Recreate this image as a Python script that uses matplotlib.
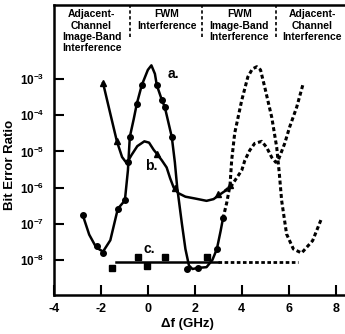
import matplotlib.pyplot as plt

plt.rcParams['font.family'] = ['Liberation Sans', 'DejaVu Sans']
plt.rcParams['font.weight'] = 'bold'
plt.rcParams['mathtext.fontset'] = 'custom'
plt.rcParams['mathtext.rm'] = 'Liberation Sans:bold'
plt.rcParams['mathtext.bf'] = 'Liberation Sans:bold'
plt.rcParams['mathtext.it'] = 'Liberation Sans:bold'
plt.rcParams['axes.unicode_minus'] = False

# --- data ---
# curve a (circles), solid part
a_x = [-2.77, -2.5, -2.2, -1.91, -1.6, -1.28, -0.98, -0.85, -0.77, -0.6, -0.47, -0.26,
       0.0, 0.15, 0.3, 0.38, 0.6, 0.72, 1.02, 1.15, 1.25, 1.45, 1.6, 1.75, 1.9, 2.13,
       2.5, 2.75, 2.94, 3.1, 3.2]
a_ber = [1.7e-7, 5.0e-8, 2.2e-8, 1.7e-8, 3.5e-8, 2.6e-7, 4.4e-7, 3.0e-6, 2.5e-5, 8.0e-5,
         2.1e-4, 6.8e-4, 1.8e-3, 2.4e-3, 1.4e-3, 6.8e-4, 2.6e-4, 1.7e-4, 2.5e-5, 5.0e-6,
         1.0e-6, 1.0e-7, 2.0e-8, 7.0e-9, 5.6e-9, 6.0e-9, 6.3e-9, 1.0e-8, 2.0e-8, 6.3e-8,
         1.4e-7]
a_pts_x = [-2.77, -2.17, -1.91, -1.28, -0.98, -0.85, -0.77, -0.47, -0.26, 0.38, 0.6,
           0.72, 1.02, 1.66, 2.13, 2.94, 3.2]
a_pts_ber = [1.7e-7, 2.4e-8, 1.6e-8, 2.6e-7, 4.4e-7, 5.0e-6, 2.5e-5, 2.1e-4, 6.8e-4,
             6.8e-4, 2.6e-4, 1.7e-4, 2.5e-5, 5.6e-9, 6.0e-9, 2.0e-8, 1.4e-7]
# curve a, image-band (dotted)
a_img_x = [3.2, 3.36, 3.5, 3.57, 3.7, 4.0, 4.26, 4.45, 4.64, 4.8, 4.98, 5.28, 5.49,
           5.6, 5.7, 5.91, 6.2, 6.55, 7.02, 7.4]
a_img_ber = [1.4e-7, 3.8e-7, 1.15e-6, 5.6e-6, 3.2e-5, 2.6e-4, 1.15e-3, 1.9e-3, 2.2e-3,
             1.8e-3, 6.0e-4, 8.7e-5, 1.3e-5, 2.5e-6, 4.4e-7, 5.2e-8, 2.0e-8, 1.55e-8,
             3.4e-8, 1.4e-7]

# curve b (triangles), solid part
b_x = [-1.91, -1.6, -1.32, -1.1, -0.9, -0.7, -0.45, -0.15, 0.05, 0.25, 0.38, 0.6, 0.8,
       0.95, 1.1, 1.3, 1.6, 2.0, 2.5, 2.8, 3.0, 3.28]
b_ber = [7.8e-4, 1.1e-4, 1.9e-5, 7.0e-6, 4.7e-6, 7.9e-6, 1.4e-5, 1.9e-5, 1.75e-5, 1.1e-5,
         8.7e-6, 5.6e-6, 3.6e-6, 1.8e-6, 1.0e-6, 7.0e-7, 5.6e-7, 5.0e-7, 4.3e-7, 4.8e-7,
         6.0e-7, 8.0e-7]
b_pts_x = [-1.91, -1.32, 0.38, 1.15, 2.98, 3.5]
b_pts_ber = [7.8e-4, 1.9e-5, 8.7e-6, 1.0e-6, 6.5e-7, 1.15e-6]
# curve b, image-band (dotted)
b_img_x = [3.28, 3.57, 4.0, 4.13, 4.34, 4.55, 4.85, 5.06, 5.28, 5.45, 5.55, 5.83, 6.04,
           6.34, 6.6]
b_img_ber = [8.0e-7, 1.15e-6, 3.0e-6, 5.6e-6, 1.07e-5, 1.66e-5, 1.9e-5, 1.3e-5, 6.8e-6,
             5.0e-6, 5.6e-6, 1.66e-5, 4.7e-5, 1.66e-4, 6.8e-4]

# curve c (squares)
c_pts_x = [-1.53, -0.42, -0.04, 0.72, 2.5]
c_pts_ber = [6.0e-9, 1.2e-8, 6.8e-9, 1.2e-8, 1.2e-8]
c_x = [-1.35, 2.98]
c_img_x = [2.98, 6.38]
c_ber = 8.9e-9

# header regions
region_edges = [-0.77, 2.30, 5.45]
region_x = [-2.4, 0.8, 3.9, 7.0]
region_labels = ['Adjacent-\nChannel\nImage-Band\nInterference',
                 'FWM\nInterference',
                 'FWM\nImage-Band\nInterference',
                 'Adjacent-\nChannel\nInterference']

xticks = [-4, -2, 0, 2, 4, 6, 8]
yticks = [1e-8, 1e-7, 1e-6, 1e-5, 1e-4, 1e-3]
ytick_labels = [r'$10^{-8}$', r'$10^{-7}$', r'$10^{-6}$', r'$10^{-5}$', r'$10^{-4}$', r'$10^{-3}$']

fig = plt.figure(figsize=(3.45, 3.34), dpi=100)
ax = fig.add_axes([54 / 345, 39 / 334, 291 / 345, 290 / 334])
ax.set_yscale('log')

dot = (0, (1.3, 0.9))
lw = 1.8

ax.plot(a_x, a_ber, color='black', lw=lw)
ax.plot(a_pts_x, a_pts_ber, 'o', color='black', ms=4)
ax.plot(a_img_x, a_img_ber, color='black', lw=2.2, ls=dot)

ax.plot(b_x, b_ber, color='black', lw=lw)
ax.plot(b_pts_x, b_pts_ber, '^', color='black', ms=4.2)
ax.plot(b_img_x, b_img_ber, color='black', lw=2.2, ls=dot)

ax.plot(c_x, [c_ber, c_ber], color='black', lw=lw)
ax.plot(c_img_x, [c_ber, c_ber], color='black', lw=2.0, ls=dot)
ax.plot(c_pts_x, c_pts_ber, 's', color='black', ms=4)

ax.text(0.85, 1.1e-3, 'a.', fontsize=10, fontweight='bold')
ax.text(-0.1, 3.0e-6, 'b.', fontsize=10, fontweight='bold')
ax.text(-0.2, 1.6e-8, 'c.', fontsize=10, fontweight='bold')

# header: dashed region separators and labels
for xe in region_edges:
    ax.axvline(xe, ymin=0.89, ymax=1.0, color='black', lw=1.2, ls=(0, (2, 1.5)))
for xr, lab in zip(region_x, region_labels):
    ax.text(xr, 0.985, lab, transform=ax.get_xaxis_transform(), ha='center', va='top',
            fontsize=7.5, fontweight='bold', linespacing=1.15, clip_on=False)

ax.set_xlim(-4, 8.4)
ax.set_ylim(1.07e-9, 0.112)
ax.set_xticks(xticks)
ax.set_xticklabels([str(t) for t in xticks])
ax.set_yticks(yticks)
ax.set_yticklabels(ytick_labels)
ax.minorticks_off()
ax.tick_params(direction='in', length=7, width=1.5, labelsize=9)
ax.tick_params(axis='y', labelsize=8.5, pad=7)
ax.tick_params(axis='x', pad=6)
for s in ['left', 'bottom', 'top']:
    ax.spines[s].set_linewidth(1.8)
ax.spines['right'].set_visible(False)

ax.set_xlabel('Δf (GHz)', fontsize=9.5, fontweight='bold')
ax.xaxis.set_label_coords(0.46, -0.08)
ax.set_ylabel('Bit Error Ratio', fontsize=9.5, fontweight='bold')
ax.yaxis.set_label_coords(-0.13, 0.45)

fig.savefig('out.png', dpi=100)
